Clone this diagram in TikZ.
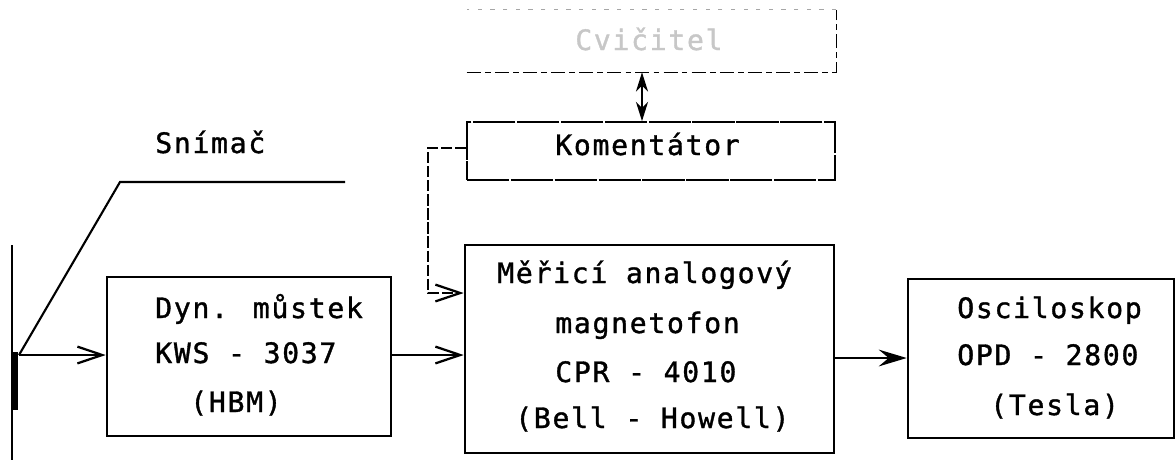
\documentclass[tikz,border=0pt]{standalone}
\usepackage{fontspec}
\newfontfamily\plotfont[LetterSpace=6,FakeBold=1.2]{DejaVu Sans Mono}
\usetikzlibrary{arrows.meta}
\begin{document}
\begin{tikzpicture}[x=0.025cm,y=-0.025cm,
  box/.style={draw, line width=1.8pt, inner sep=0pt},
  thinbox/.style={draw, line width=1.2pt, inner sep=0pt},
  lbl/.style={font=\plotfont\fontsize{20pt}{24pt}\selectfont, inner sep=0pt, anchor=base west},
  conn/.style={line width=1.5pt},
  openhead/.style={-{Straight Barb[length=0.62cm,width=0.42cm,line width=1.6pt]}},
  fillhead/.style={-{Stealth[length=0.7cm,width=0.42cm,inset=0.25cm]}},
  dblhead/.style={{Stealth[length=0.48cm,width=0.3cm,inset=0.15cm]}-{Stealth[length=0.48cm,width=0.3cm,inset=0.15cm]}}
]
\useasboundingbox (0,0) rectangle (1176,470);

% boxes
\node[box, minimum width=7.1cm, minimum height=3.975cm] (dyn) at (249,356.5) {};
\node[box, minimum width=9.225cm, minimum height=5.2cm] (mag) at (649.5,349) {};
\node[box, minimum width=6.65cm, minimum height=3.975cm] (osc) at (1041,358.5) {};
\node[thinbox, dash pattern=on 30pt off 1.2pt, minimum width=9.2cm, minimum height=1.45cm] (kom) at (651,151) {};
\node[inner sep=0pt, minimum width=9.225cm, minimum height=1.55cm] (top) at (651.5,41) {};
\draw[line width=1.1pt, dash pattern=on 10pt off 3pt on 4pt off 3pt] (top.south west) -- (top.south east) -- (top.north east);
\draw[line width=0.8pt, black!35, dash pattern=on 3pt off 6pt] (top.north east) -- (top.north west);

% texts
\node[lbl] (tsn) at (155,153) {Snímač};
\node[lbl] (td1) at (155,318) {Dyn. můstek};
\node[lbl] (td2) at (155,363) {KWS - 3037};
\node[lbl] (td3) at (190,412) {(HBM)};
\node[lbl] (tm1) at (497,283) {Měřicí analogový};
\node[lbl] (tm2) at (555,333) {magnetofon};
\node[lbl] (tm3) at (555,382) {CPR - 4010};
\node[lbl] (tm4) at (515,428) {(Bell - Howell)};
\node[lbl] (to1) at (957,318) {Osciloskop};
\node[lbl] (to2) at (957,365) {OPD - 2800};
\node[lbl] (to3) at (990,415) {(Tesla)};
\node[lbl] (tk) at (555,155) {Komentátor};
\node[lbl, text=black!22] (tt) at (575,50) {Cvičitel};

% measured object with gauge
\coordinate (rodtop) at (12,245);
\coordinate (rodbot) at (12,460);
\coordinate (gtop) at (15,352);
\coordinate (gbot) at (15,410);
\coordinate (lead0) at (19,355);
\coordinate (lead1) at (120,182);
\coordinate (lead2) at (345,182);
\draw[line width=1.2pt] (rodtop) -- (rodbot);
\draw[line width=4.5pt] (gtop) -- (gbot);
\draw[conn] (lead0) -- (lead1) -- (lead2);

% connectors
\draw[conn, openhead] (lead0) -- (dyn.west |- lead0);
\draw[conn, openhead] (dyn.east |- 0,355) -- (mag.west |- 0,355);
\draw[conn, fillhead] (mag.east |- 0,358) -- (osc.west |- 0,358);
\draw[line width=1.1pt, dash pattern=on 8pt off 2pt, openhead] (kom.west |- 0,148) -- (428,148) -- (428,293) -- (mag.west |- 0,293);
\draw[line width=1.8pt, dblhead] (top.south -| 642,0) -- (kom.north -| 642,0);
\end{tikzpicture}
\end{document}
